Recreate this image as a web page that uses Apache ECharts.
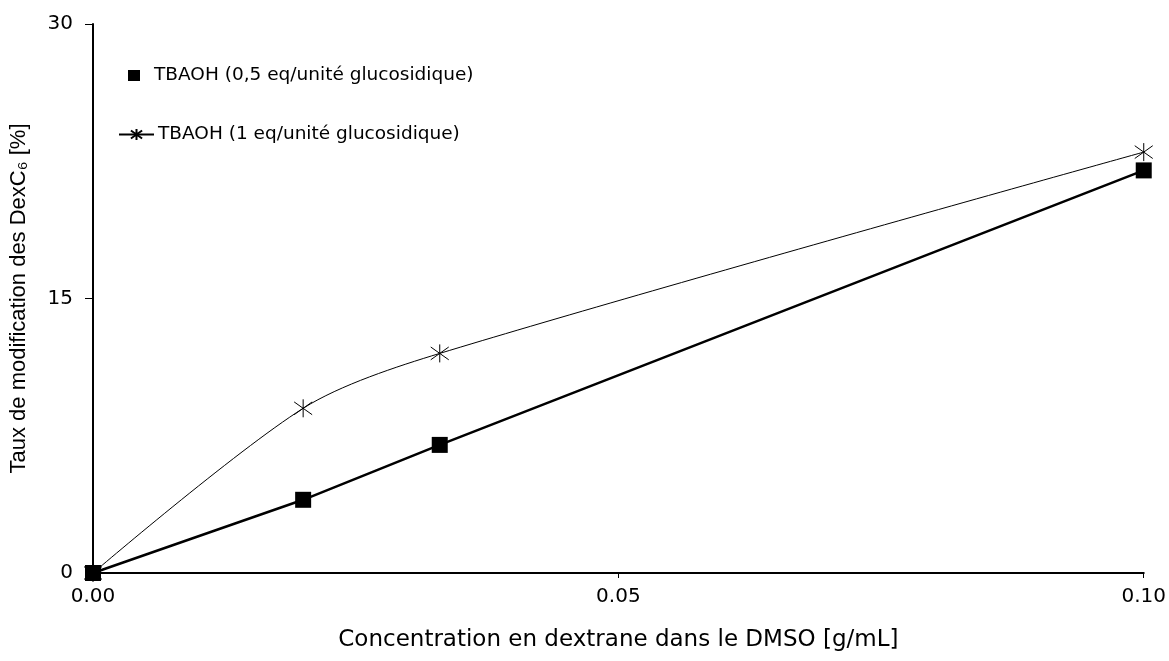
<!DOCTYPE html>
<html><head><meta charset="utf-8">
<script src="https://cdn.jsdelivr.net/npm/echarts@6/dist/echarts.min.js"></script>
<style>html,body{margin:0;padding:0;background:#fff}#c{width:1169px;height:661px}</style>
</head><body><div id="c"></div>
<script>
const xHalf = [0, 0.02, 0.033, 0.1];
const yHalf = [0, 4, 7, 22];
const xOne = [0, 0.02, 0.033, 0.1];
const yOne = [0, 9, 12, 23];
const seriesNames = ['TBAOH (0,5 eq/unité glucosidique)', 'TBAOH (1 eq/unité glucosidique)'];
const xTitle = 'Concentration en dextrane dans le DMSO [g/mL]';
const yTitle = 'Taux de modification des DexC₆ [%]';

const star = 'path://M10,0 L10,20 M2.9,2.9 L17.1,17.1 M17.1,2.9 L2.9,17.1';
const font = 'DejaVu Sans';
const chart = echarts.init(document.getElementById('c'), null, {renderer: 'canvas'});
chart.setOption({
  animation: false,
  backgroundColor: '#fff',
  grid: {left: 91, right: 20, top: 24, bottom: 88, containLabel: false},
  legend: [
    {
      left: 123, top: 61, itemWidth: 12, itemHeight: 11, itemGap: 14,
      textStyle: {fontFamily: font, fontSize: 18.5, color: '#000', padding: [0, 0, 0, 9]},
      data: [{name: seriesNames[0], icon: 'rect', itemStyle: {color: '#000'}}]
    },
    {
      left: 113, top: 120, itemWidth: 35, itemHeight: 14,
      textStyle: {fontFamily: font, fontSize: 18.5, color: '#000', padding: [0, 0, 0, -1]},
      data: [{name: seriesNames[1]}]
    }
  ],
  xAxis: {
    type: 'value', min: 0, max: 0.1, interval: 0.05,
    name: xTitle, nameLocation: 'middle', nameGap: 56,
    nameTextStyle: {fontFamily: font, fontSize: 23, color: '#000'},
    axisLine: {lineStyle: {color: '#000', width: 2}},
    axisTick: {show: true, length: 5, lineStyle: {color: '#000', width: 1}},
    axisLabel: {fontFamily: font, fontSize: 20, color: '#000', margin: 14, formatter: v => v.toFixed(2)},
    splitLine: {show: false}
  },
  yAxis: {
    type: 'value', min: 0, max: 30, interval: 15,
    name: yTitle, nameLocation: 'middle', nameGap: 63, nameRotate: 90,
    nameTextStyle: {fontFamily: 'Liberation Sans', fontSize: 22, color: '#000'},
    axisLine: {show: true, lineStyle: {color: '#000', width: 2}},
    axisTick: {show: true, length: 8, lineStyle: {color: '#000', width: 1}},
    axisLabel: {fontFamily: font, fontSize: 20, color: '#000', margin: 20},
    splitLine: {show: false}
  },
  series: [
    {
      name: seriesNames[0], type: 'line',
      data: xHalf.map((x, i) => [x, yHalf[i]]),
      symbol: 'rect', symbolSize: 16,
      lineStyle: {color: '#000', width: 2.5},
      itemStyle: {color: '#000'},
      z: 3
    },
    {
      name: seriesNames[1], type: 'line', smooth: 0.3,
      data: xOne.map((x, i) => [x, yOne[i]]),
      symbol: star, symbolSize: 18, showAllSymbol: true,
      lineStyle: {color: '#000', width: 1},
      itemStyle: {color: 'none', borderColor: '#000', borderWidth: 1},
      z: 2
    }
  ]
});
</script>
</body></html>
